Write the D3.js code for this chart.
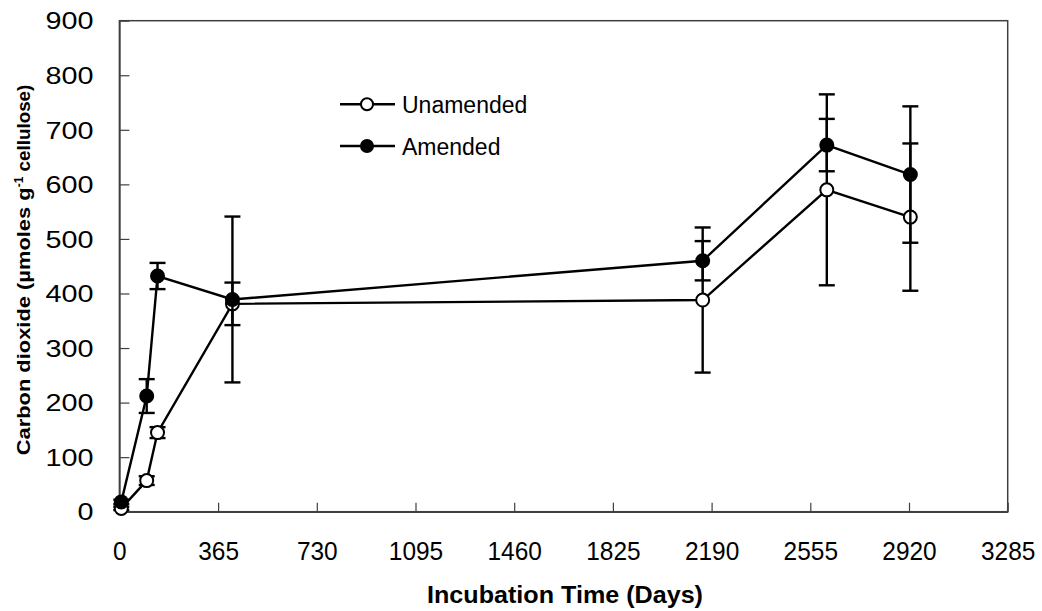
<!DOCTYPE html>
<html>
<head>
<meta charset="utf-8">
<script src="https://cdn.jsdelivr.net/npm/d3@7"></script>
<style>
  body { margin: 0; background: #fff; }
  text { font-family: Arial, "Liberation Sans", sans-serif; fill: #000; }
</style>
</head>
<body>
<div id="chart"></div>
<script>
// data
const days = [7, 101, 141, 418, 2157, 2616, 2925];
const unamended = [6, 57, 145, 381, 388, 590, 540];
const unamendedErr = [3, 8, 10, 39, 133, 175, 135];
const amended = [18, 212, 432, 389, 460, 672, 618];
const amendedErr = [4, 31, 24, 152, 36, 48, 125];
const xTicks = [0, 365, 730, 1095, 1460, 1825, 2190, 2555, 2920, 3285];
const yTicks = [0, 100, 200, 300, 400, 500, 600, 700, 800, 900];
const seriesNames = ["Unamended", "Amended"];

const width = 1042, height = 611;
const plot = {left: 119.4, right: 1007.7, top: 20.7, bottom: 511.7};

var svg = d3.select("#chart")
  .append("svg")
    .attr("width", width)
    .attr("height", height);

var x = d3.scaleLinear().domain([0, 3285]).range([plot.left, plot.right]);
var y = d3.scaleLinear().domain([0, 900]).range([plot.bottom, plot.top]);

// frame
svg.append("rect")
  .attr("x", plot.left).attr("y", plot.top)
  .attr("width", plot.right - plot.left)
  .attr("height", plot.bottom - plot.top)
  .attr("fill", "none")
  .attr("stroke", "#404040")
  .attr("stroke-width", 1.5);

// X axis (ticks point inward)
var xAxis = svg.append("g")
  .attr("transform", "translate(0," + plot.bottom + ")")
  .call(d3.axisBottom(x).tickValues(xTicks).tickSizeInner(-9).tickSizeOuter(0).tickPadding(0).tickFormat(d3.format("d")));
xAxis.select(".domain").attr("stroke", "#404040").attr("stroke-width", 1.5);
xAxis.selectAll(".tick line").attr("stroke", "#404040").attr("stroke-width", 1.2);
xAxis.selectAll(".tick text")
  .attr("y", 48.5).attr("dy", 0)
  .attr("textLength", d => String(d).length * 13.6)
  .attr("lengthAdjust", "spacingAndGlyphs")
  .style("font-size", "26px")
  .style("font-family", "Arial, 'Liberation Sans', sans-serif");

// Y axis
var yAxis = svg.append("g")
  .attr("transform", "translate(" + plot.left + ",0)")
  .call(d3.axisLeft(y).tickValues(yTicks).tickSizeInner(-10).tickSizeOuter(0).tickPadding(0));
yAxis.select(".domain").attr("stroke", "#404040").attr("stroke-width", 1.5);
yAxis.selectAll(".tick line").attr("stroke", "#404040").attr("stroke-width", 1.2);
yAxis.selectAll(".tick text")
  .attr("x", -26).attr("dy", "0.36em")
  .attr("textLength", d => String(d).length * 16)
  .attr("lengthAdjust", "spacingAndGlyphs")
  .style("font-size", "23px")
  .style("font-family", "Arial, 'Liberation Sans', sans-serif");

// axis titles
svg.append("text")
  .attr("x", 565)
  .attr("y", 603)
  .attr("text-anchor", "middle")
  .attr("textLength", 276)
  .attr("lengthAdjust", "spacingAndGlyphs")
  .style("font-size", "23px")
  .style("font-weight", "bold")
  .text("Incubation Time (Days)");

var yTitle = svg.append("text")
  .attr("transform", "translate(30,270) rotate(-90)")
  .attr("text-anchor", "middle")
  .style("font-size", "18px")
  .style("font-weight", "bold");
yTitle.append("tspan").attr("textLength", 268).attr("lengthAdjust", "spacingAndGlyphs").text("Carbon dioxide (µmoles g");
yTitle.append("tspan").attr("dy", -7).style("font-size", "12px").text("-1");
yTitle.append("tspan").attr("dy", 7).attr("textLength", 92).attr("lengthAdjust", "spacingAndGlyphs").text(" cellulose)");

// one series: line, error bars, markers
function drawSeries(vals, errs, fill) {
  var pts = days.map((d, i) => ({d: d, v: vals[i], e: errs[i]}));
  var g = svg.append("g");

  g.append("path")
    .datum(pts)
    .attr("fill", "none")
    .attr("stroke", "#000")
    .attr("stroke-width", 2.4)
    .attr("d", d3.line().x(p => x(p.d)).y(p => y(p.v)));

  var bars = g.selectAll(".err")
    .data(pts.filter(p => p.e > 0))
    .enter().append("g");
  bars.append("line")
    .attr("x1", p => x(p.d)).attr("x2", p => x(p.d))
    .attr("y1", p => y(p.v + p.e)).attr("y2", p => y(p.v - p.e))
    .attr("stroke", "#000").attr("stroke-width", 2.4);
  [1, -1].forEach(function(s) {
    bars.append("line")
      .attr("x1", p => x(p.d) - 8).attr("x2", p => x(p.d) + 8)
      .attr("y1", p => y(p.v + s * p.e)).attr("y2", p => y(p.v + s * p.e))
      .attr("stroke", "#000").attr("stroke-width", 2.4);
  });

  g.selectAll("circle")
    .data(pts)
    .enter().append("circle")
      .attr("cx", p => x(p.d))
      .attr("cy", p => y(p.v))
      .attr("r", 6.5)
      .attr("fill", fill)
      .attr("stroke", "#000")
      .attr("stroke-width", 2);
}

drawSeries(unamended, unamendedErr, "#fff");
drawSeries(amended, amendedErr, "#000");

// legend
var legend = svg.append("g");
seriesNames.forEach(function(name, i) {
  var ly = 104.3 + i * 41.7;
  legend.append("line")
    .attr("x1", 340).attr("x2", 395)
    .attr("y1", ly).attr("y2", ly)
    .attr("stroke", "#000").attr("stroke-width", 2.4);
  legend.append("circle")
    .attr("cx", 367).attr("cy", ly).attr("r", 6)
    .attr("fill", i == 0 ? "#fff" : "#000")
    .attr("stroke", "#000").attr("stroke-width", 2);
  legend.append("text")
    .attr("x", 402).attr("y", ly + 8.5)
    .style("font-size", "23px")
    .text(name);
});
</script>
</body>
</html>
